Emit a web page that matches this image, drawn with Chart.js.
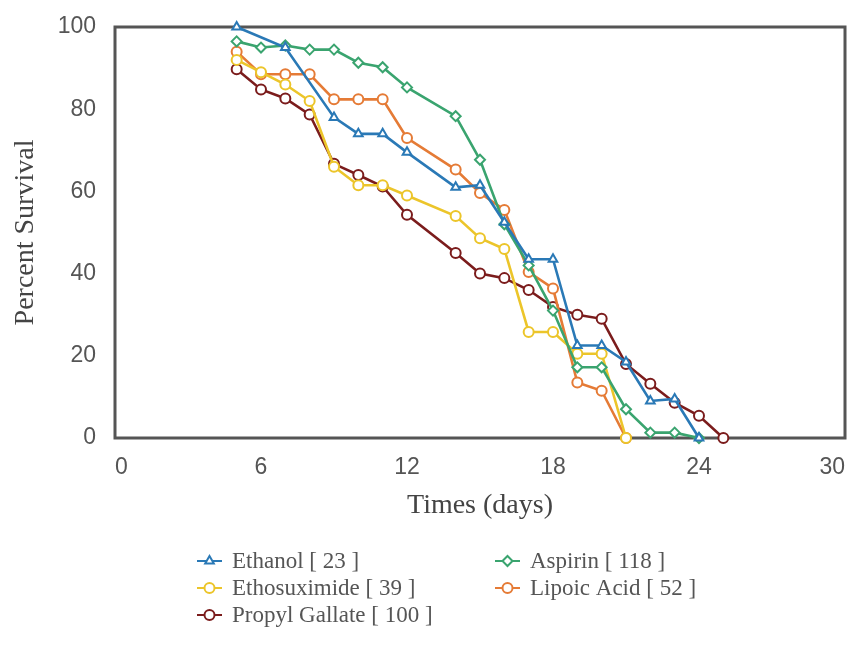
<!DOCTYPE html>
<html>
<head>
<meta charset="utf-8">
<script src="https://cdn.jsdelivr.net/npm/chart.js@4"></script>
<style>
  html, body { margin: 0; background: #fff; }
</style>
</head>
<body>
<canvas id="survivalChart" width="856" height="653"></canvas>
<script>
// survival per group, by day
const ethanolDays = [5, 7, 9, 10, 11, 12, 14, 15, 16, 17, 18, 19, 20, 21, 22, 23, 24];
const ethanolSurvival = [100, 95, 78, 74, 74, 69.5, 61, 61.5, 52.5, 43.5, 43.5, 22.5, 22.5, 18.5, 9, 9.5, 0];

const aspirinDays = [5, 6, 7, 8, 9, 10, 11, 12, 14, 15, 16, 17, 18, 19, 20, 21, 22, 23, 24];
const aspirinSurvival = [96.5, 95, 95.5, 94.5, 94.5, 91.3, 90.2, 85.3, 78.3, 67.7, 52, 42, 31, 17.2, 17.2, 7, 1.3, 1.3, 0];

const ethosuximideDays = [5, 6, 7, 8, 9, 10, 11, 12, 14, 15, 16, 17, 18, 19, 20, 21];
const ethosuximideSurvival = [92, 89, 86, 82, 66, 61.5, 61.5, 59, 54, 48.6, 46, 25.8, 25.8, 20.5, 20.5, 0];

const lipoicDays = [5, 6, 7, 8, 9, 10, 11, 12, 14, 15, 16, 17, 18, 19, 20, 21];
const lipoicSurvival = [94, 88.5, 88.5, 88.5, 82.4, 82.4, 82.4, 73, 65.3, 59.6, 55.5, 40.4, 36.4, 13.5, 11.5, 0];

const propylDays = [5, 6, 7, 8, 9, 10, 11, 12, 14, 15, 16, 17, 18, 19, 20, 21, 22, 23, 24, 25];
const propylSurvival = [89.7, 84.8, 82.6, 78.7, 66.7, 64, 61.2, 54.3, 45, 40, 38.9, 36, 31.9, 30, 29, 18, 13.2, 8.6, 5.4, 0];

const groupNames = ["Ethanol [ 23 ]", "Aspirin [ 118 ]", "Ethosuximide [ 39 ]", "Lipoic Acid [ 52 ]", "Propyl Gallate [ 100 ]"];
const xTicks = [0, 6, 12, 18, 24, 30];
const yTicks = [0, 20, 40, 60, 80, 100];

function toPoints(days, values) {
    return days.map(function (d, i) { return { x: d, y: values[i] }; });
}

function series(label, days, values, color, style) {
    return {
        label: label,
        data: toPoints(days, values),
        borderColor: color,
        backgroundColor: "#fff",
        borderWidth: 2.6,
        pointStyle: style,
        pointRadius: 5,
        pointBorderWidth: 2,
        pointBackgroundColor: "#fff",
        pointBorderColor: color,
        tension: 0,
        clip: false
    };
}

// plain frame around the plot area
const framePlugin = {
    id: "frame",
    beforeDatasetsDraw(chart) {
        const a = chart.chartArea;
        const ctx = chart.ctx;
        ctx.save();
        ctx.strokeStyle = "#555";
        ctx.lineWidth = 3;
        ctx.strokeRect(a.left, a.top, a.right - a.left, a.bottom - a.top);
        ctx.restore();
    }
};

// two column legend below the chart, line + marker icons
const legendPlugin = {
    id: "gridLegend",
    afterDraw(chart) {
        const ctx = chart.ctx;
        const colX = [197, 495];
        const rowY = [561, 588, 615];
        ctx.save();
        chart.data.datasets.forEach(function (ds, i) {
            const x = colX[i % 2];
            const y = rowY[Math.floor(i / 2)];
            ctx.strokeStyle = ds.borderColor;
            ctx.lineWidth = 2;
            ctx.beginPath();
            ctx.moveTo(x, y);
            ctx.lineTo(x + 25, y);
            ctx.stroke();
            ctx.fillStyle = "#fff";
            Chart.helpers.drawPoint(ctx, {
                pointStyle: ds.pointStyle,
                radius: 5,
                borderWidth: 2,
                rotation: 0
            }, x + 12.5, y);
            ctx.fillStyle = "#555";
            ctx.font = "23px 'Liberation Serif', serif";
            ctx.textBaseline = "middle";
            ctx.fillText(ds.label, x + 35, y + 1);
        });
        ctx.restore();
    }
};

const ctx = document.getElementById("survivalChart").getContext("2d");
new Chart(ctx, {
    type: "line",
    data: {
        datasets: [
            series(groupNames[0], ethanolDays, ethanolSurvival, "#2a79b6", "triangle"),
            series(groupNames[1], aspirinDays, aspirinSurvival, "#3aa46f", "rectRot"),
            series(groupNames[2], ethosuximideDays, ethosuximideSurvival, "#ecc52a", "circle"),
            series(groupNames[3], lipoicDays, lipoicSurvival, "#e57b36", "circle"),
            series(groupNames[4], propylDays, propylSurvival, "#7b1c1c", "circle")
        ]
    },
    options: {
        responsive: false,
        animation: false,
        layout: { padding: { top: 27, right: 11, bottom: 129, left: 0 } },
        plugins: {
            legend: { display: false },
            tooltip: { enabled: false }
        },
        scales: {
            x: {
                type: "linear",
                min: 0,
                max: 30,
                afterBuildTicks: function (s) { s.ticks = xTicks.map(function (v) { return { value: v }; }); },
                afterFit: function (s) { s.height = 86; s.paddingRight = 0; s.paddingLeft = 0; },
                grid: { display: false },
                border: { display: false },
                ticks: {
                    color: "#555",
                    padding: 8,
                    align: "inner",
                    font: { family: "'Liberation Sans', Arial", size: 23 }
                },
                title: {
                    display: true,
                    text: "Times (days)",
                    color: "#444",
                    padding: { top: 4, bottom: 2 },
                    font: { family: "'Liberation Serif', serif", size: 28 }
                }
            },
            y: {
                min: 0,
                max: 100,
                afterBuildTicks: function (s) { s.ticks = yTicks.map(function (v) { return { value: v }; }); },
                afterFit: function (s) { s.width = 115; },
                grid: { display: false },
                border: { display: false },
                ticks: {
                    color: "#555",
                    padding: 11,
                    font: { family: "'Liberation Sans', Arial", size: 23 }
                },
                title: {
                    display: true,
                    text: "Percent Survival",
                    color: "#444",
                    padding: { top: 9, bottom: 4 },
                    font: { family: "'Liberation Serif', serif", size: 28 }
                }
            }
        }
    },
    plugins: [framePlugin, legendPlugin]
});
</script>
</body>
</html>
